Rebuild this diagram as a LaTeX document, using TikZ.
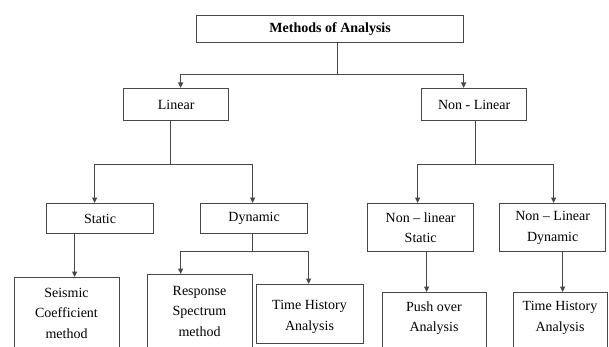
\documentclass[tikz,border=0pt]{standalone}
\usepackage{fontspec}
\setmainfont{Liberation Serif}
\usetikzlibrary{arrows.meta,calc}
\begin{document}
\begin{tikzpicture}[x=1pt,y=-1pt,
  box/.style={draw=black!72,line width=1.3pt,rectangle,inner sep=0pt,anchor=north west,align=center,
    font=\fontsize{14}{20.5}\selectfont},
  txt/.style={inner sep=0pt,align=center,font=\fontsize{14}{20.5}\selectfont},
  conn/.style={draw=black!72,line width=1.2pt},
  arr/.style={conn,-{Triangle[length=5.5pt,width=5pt]}}]
\useasboundingbox (0,0) rectangle (609,347);
\clip (0,0) rectangle (609,347);
% boxes
\node[box,minimum width=267,minimum height=27,font=\fontsize{14}{20.5}\selectfont\bfseries] (top) at (196,15) {Methods of Analysis};
\node[box,minimum width=105,minimum height=32] (lin) at (123,88) {Linear};
\node[box,minimum width=105,minimum height=32] (nl) at (421,88) {Non - Linear};
\node[box,minimum width=107,minimum height=30] (stat) at (46,203) {Static};
\node[box,minimum width=107,minimum height=30] (dyn) at (200,203) {Dynamic};
\node[box,minimum width=106,minimum height=48] (nls) at (367,203) {Non -- linear\\Static};
\node[box,minimum width=106,minimum height=48] (nld) at (499,203) {Non -- Linear\\Dynamic};
\node[box,minimum width=105,minimum height=90] (seis) at (14,277) {};
\node[box,minimum width=105,minimum height=90] (resp) at (147,274) {};
\node[box,minimum width=107,minimum height=59] (th1) at (256,284) {};
\node[box,minimum width=104,minimum height=80] (push) at (382,292) {};
\node[box,minimum width=94,minimum height=80] (th2) at (513,292) {};
% texts of the lower boxes
\node[txt] (seisT) at (66.5,313) {Seismic\\Coefficient\\method};
\node[txt] (respT) at (199.5,311) {Response\\Spectrum\\method};
\node[txt] (th1T) at (309.5,317) {Time History\\Analysis};
\node[txt] (pushT) at (434,318) {Push over\\Analysis};
\node[txt] (th2T) at (560,318) {Time History\\Analysis};
% connectors
\coordinate (j1) at ($(top.south)+(7.5,31)$);
\draw[conn] ($(top.south)+(7.5,0)$) -- (j1);
\draw[arr] (j1) -| ($(lin.north)+(4.5,0)$);
\draw[arr] (j1) -| ($(nl.north)+(-10.5,0)$);
\coordinate (j2) at ($(lin.south)+(-5.5,43)$);
\draw[conn] ($(lin.south)+(-5.5,0)$) -- (j2);
\draw[arr] (j2) -| ($(stat.north)+(-5.5,0)$);
\draw[arr] (j2) -| ($(dyn.north)+(-1.5,0)$);
\coordinate (j3) at ($(nl.south)+(1.5,43)$);
\draw[conn] ($(nl.south)+(1.5,0)$) -- (j3);
\draw[arr] (j3) -| ($(nls.north)+(-3,0)$);
\draw[arr] (j3) -| ($(nld.north)+(1,0)$);
\coordinate (a1) at ($(seis.north)+(7.5,0)$);
\draw[arr] (a1 |- stat.south) -- (a1);
\coordinate (j4) at ($(dyn.south)+(-1.5,17)$);
\draw[conn] ($(dyn.south)+(-1.5,0)$) -- (j4);
\draw[arr] (j4) -| ($(resp.north)+(-19.5,0)$);
\draw[arr] (j4) -| ($(th1.north)+(-1.5,0)$);
\coordinate (a2) at ($(push.north)+(-8,0)$);
\draw[arr] (a2 |- nls.south) -- (a2);
\coordinate (a3) at ($(th2.north)+(2,0)$);
\draw[arr] (a3 |- nld.south) -- (a3);
\end{tikzpicture}
\end{document}
